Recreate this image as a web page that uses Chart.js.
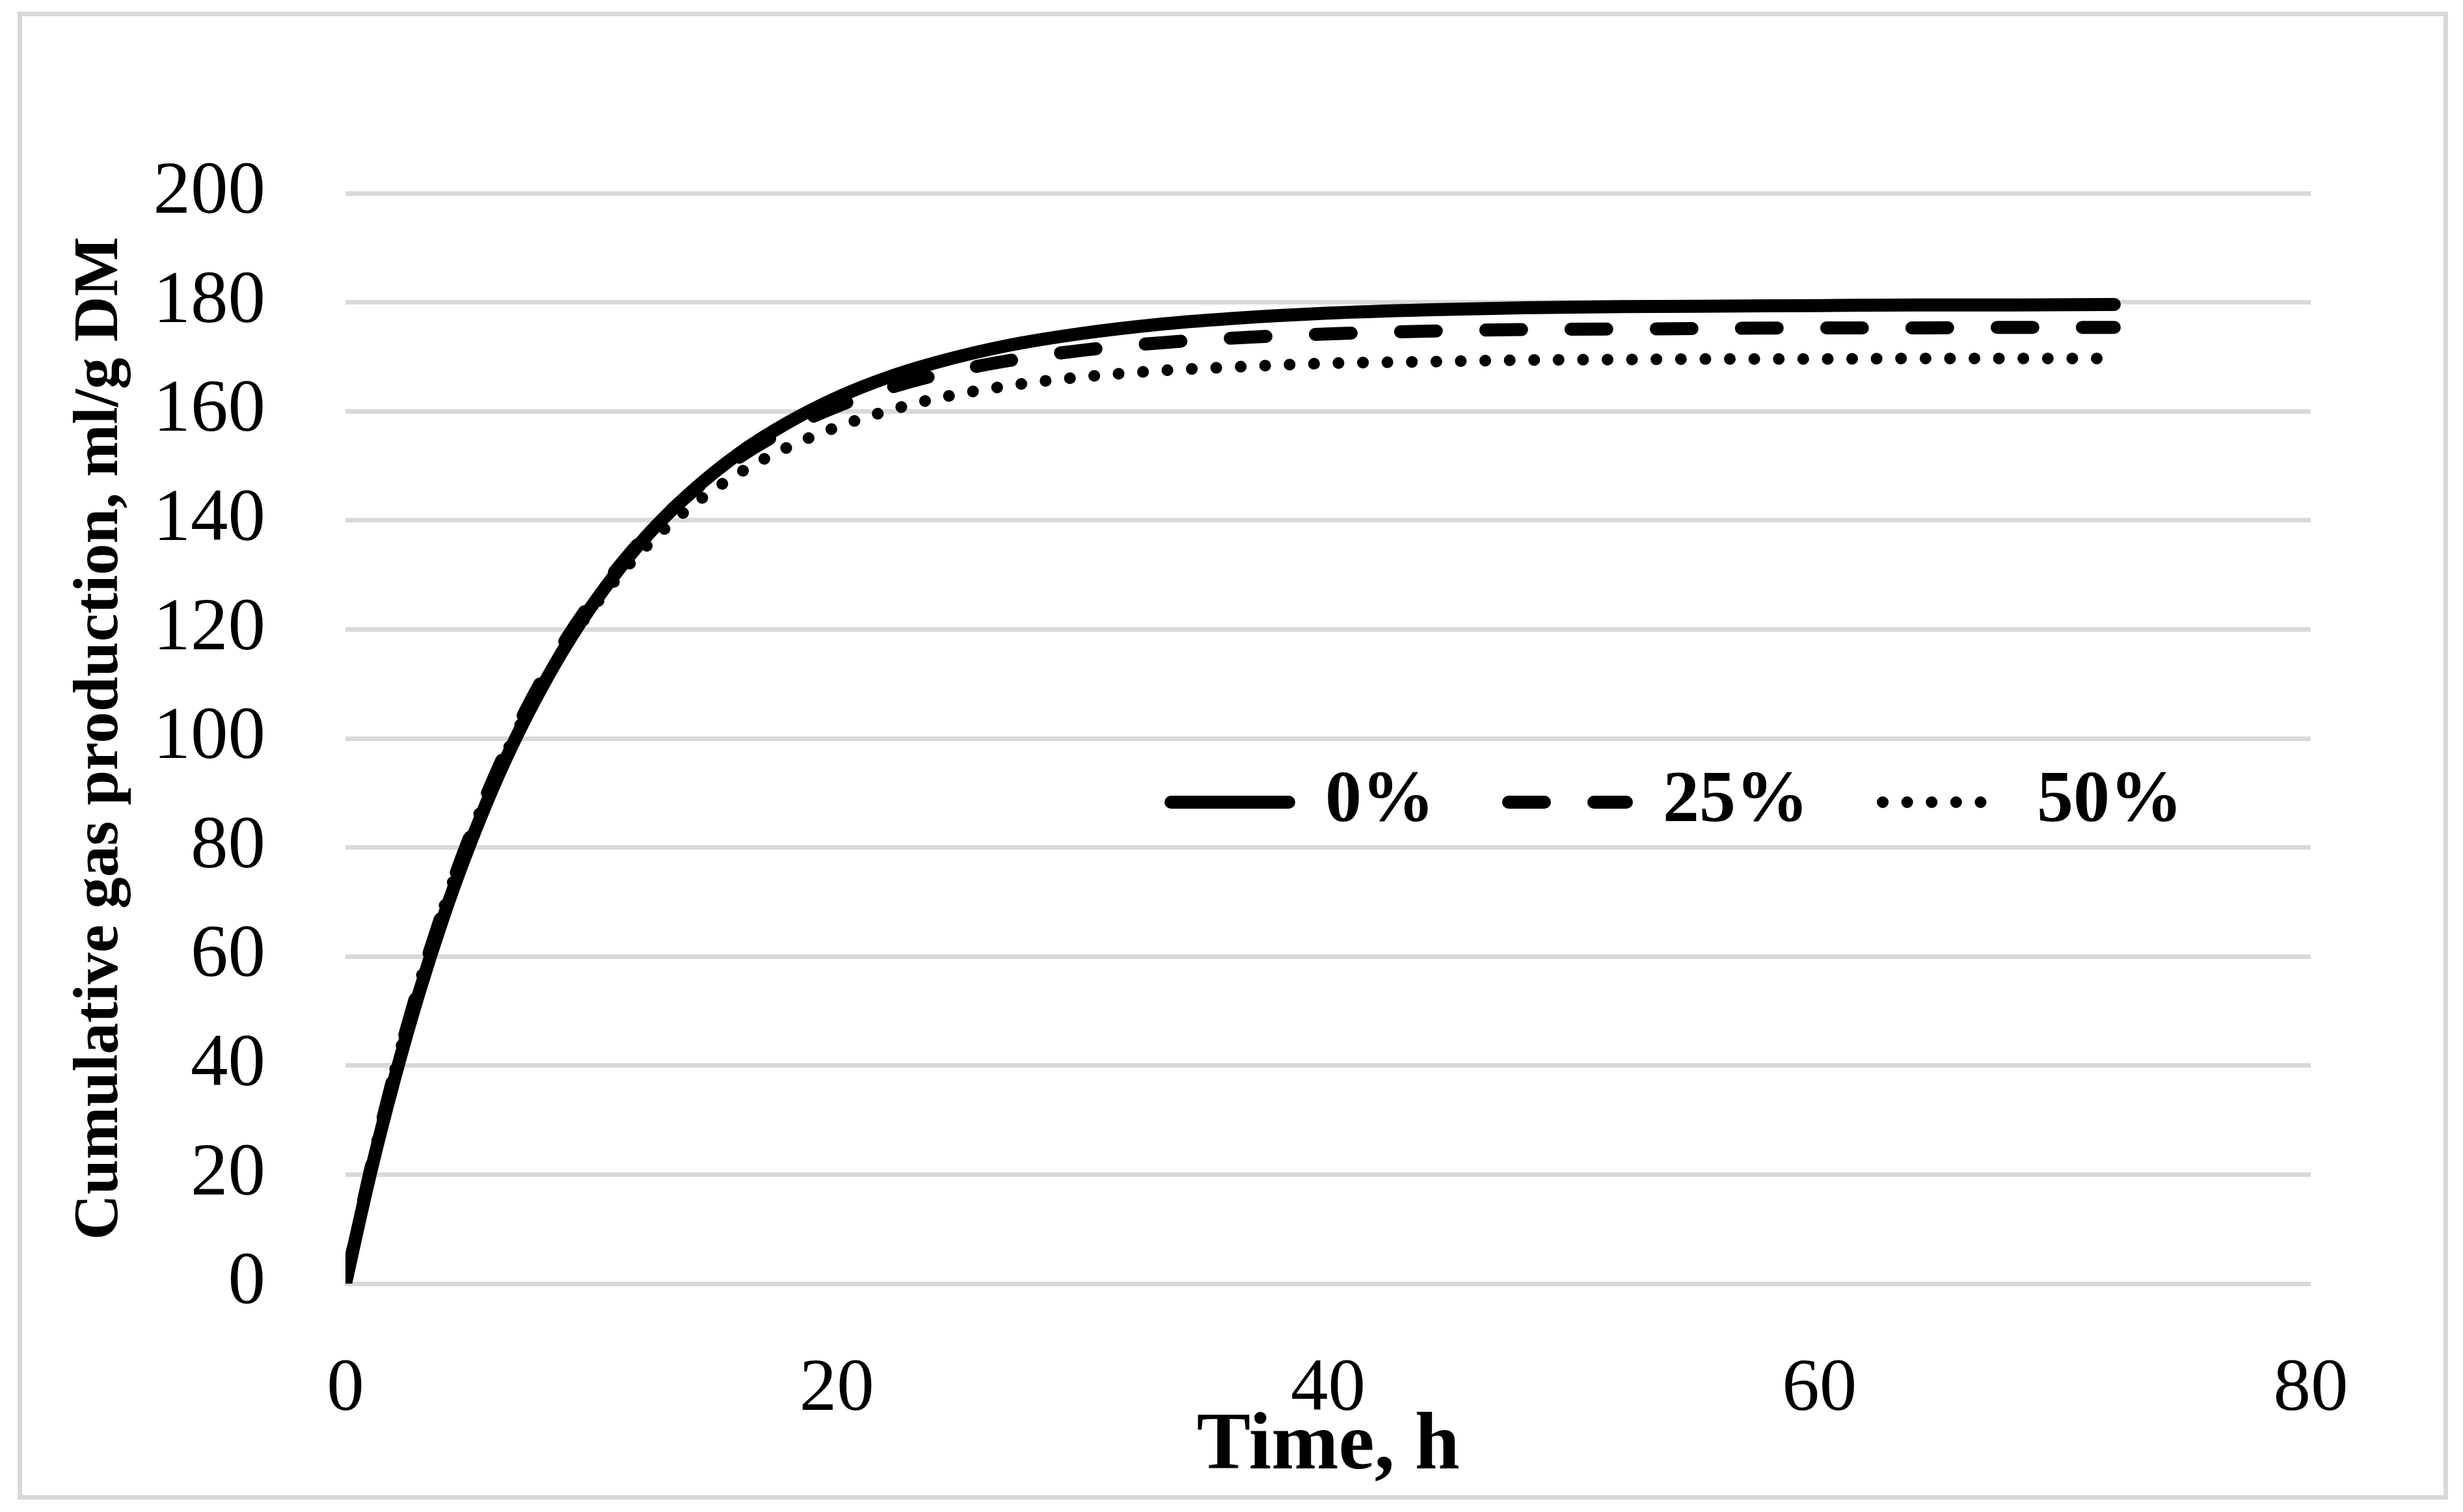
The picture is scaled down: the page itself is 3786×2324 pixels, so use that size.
<!DOCTYPE html>
<html>
<head>
<meta charset="utf-8">
<script src="https://cdn.jsdelivr.net/npm/chart.js@4.4.1/dist/chart.umd.min.js"></script>
<style>
  html, body { margin:0; padding:0; background:#ffffff; overflow:hidden; }
  #wrap { position:relative; width:3786px; height:2324px; background:#ffffff; }
  #frame { position:absolute; left:27px; top:18px; width:3736px; height:2287px; box-sizing:border-box; border:7px solid #D9D9D9; pointer-events:none; }
  canvas { position:absolute; left:0; top:0; }
</style>
</head>
<body>
<div id="wrap">
  <canvas id="c" width="3786" height="2324" style="width:3786px;height:2324px"></canvas>
  <div id="frame"></div>
</div>
<script>
// ---- data ----
const hours = [0,1,2,3,4,5,6,7,8,9,10,12,14,16,18,20,22,24,27,30,33,36,40,44,48,52,56,60,64,68,72];
const gas0  = [0,19.9,37.6,53.4,67.4,79.8,90.9,100.7,109.4,117.2,124.1,135.8,144.9,152.2,157.9,162.5,166.1,168.9,172.1,174.3,175.9,177.0,178.0,178.6,179.0,179.2,179.3,179.4,179.5,179.5,179.6];
const gas25 = [0,20.5,38.7,54.7,68.8,81.3,92.3,102.1,110.7,118.3,124.9,136.1,144.8,151.5,156.8,160.9,164.1,166.6,169.3,171.2,172.5,173.4,174.2,174.7,175.0,175.1,175.2,175.3,175.3,175.4,175.4];
const gas50 = [0,20.7,38.9,54.9,68.9,81.2,92.0,101.5,109.8,117.1,123.5,134.1,142.3,148.6,153.4,157.1,160.0,162.3,164.7,166.3,167.4,168.1,168.8,169.1,169.4,169.5,169.6,169.6,169.7,169.7,169.7];
const seriesNames = ['0%','25%','50%'];
const xTicks = [0,20,40,60,80];
const yTicks = [0,20,40,60,80,100,120,140,160,180,200];
const xTitle = 'Time, h';
const yTitle = 'Cumulative gas production, ml/g DM';

const FONT = 'Liberation Serif';
Chart.defaults.font.family = FONT;
Chart.defaults.color = '#000000';

function pts(vals){ return hours.map((h,i)=>({x:h, y:vals[i]})); }

const legendMover = {
  id: 'legendMover',
  afterInit(chart) {
    const lg = chart.legend;
    if (!lg) return;
    const fit = lg.fit.bind(lg);
    lg.fit = function(){ fit(); this._fullH = this.height; this._fullW = this.width; this.height = 0; };
  },
  afterLayout(chart) {
    const lg = chart.legend;
    if (!lg) return;
    lg.left = 1686; lg.top = 1063;
    lg.right = lg.left + (lg._fullW || 3000);
    lg.bottom = lg.top + (lg._fullH || 300);
  }
};

const common = { borderColor:'#000000', backgroundColor:'#000000', pointRadius:0, pointHoverRadius:0, fill:false, cubicInterpolationMode:'monotone', borderCapStyle:'round', borderJoinStyle:'round' };

new Chart(document.getElementById('c'), {
  type: 'line',
  data: {
    datasets: [
      Object.assign({}, common, { label: seriesNames[0], data: pts(gas0),  borderWidth: 20, borderDash: [] }),
      Object.assign({}, common, { label: seriesNames[1], data: pts(gas25), borderWidth: 20, borderDash: [55, 76] }),
      Object.assign({}, common, { label: seriesNames[2], data: pts(gas50), borderWidth: 18, borderDash: [0.1, 37.5] })
    ]
  },
  options: {
    responsive: false,
    devicePixelRatio: 1,
    animation: false,
    events: [],
    layout: { padding: { left: 0, right: 234, top: 297, bottom: 25 } },
    plugins: {
      tooltip: { enabled: false },
      legend: {
        position: 'top',
        align: 'start',
        labels: {
          usePointStyle: true,
          pointStyle: 'line',
          pointStyleWidth: 181,
          padding: 114,
          color: '#000000',
          font: { family: FONT, size: 112, weight: 'bold' },
          generateLabels(chart) {
            const items = Chart.defaults.plugins.legend.labels.generateLabels(chart);
            items.forEach(it => {
              const ds = chart.data.datasets[it.datasetIndex];
              it.lineDash = ds.borderDash;
              it.lineWidth = ds.borderWidth;
              it.lineCap = 'round';
              it.lineDashOffset = 0;
              it.strokeStyle = '#000000';
              it.fillStyle = '#000000';
              it.pointStyle = 'line';
              it.fontColor = '#000000';
            });
            return items;
          }
        }
      }
    },
    scales: {
      x: {
        type: 'linear', min: 0, max: 80,
        afterBuildTicks(s){ s.ticks = xTicks.map(v=>({value:v})); },
        afterFit(s){ s.height = 326; },
        ticks: { color:'#000000', padding: 95, maxRotation: 0, autoSkip: false, font: { family: FONT, size: 115 } },
        grid: { display: false, drawTicks: false },
        border: { display: false },
        title: { display: true, text: xTitle, color:'#000000', padding: 0, font: { family: FONT, size: 124, weight: 'bold' } }
      },
      y: {
        type: 'linear', min: 0, max: 200,
        afterBuildTicks(s){ s.ticks = yTicks.map(v=>({value:v})); },
        afterFit(s){ s.width = 531; },
        ticks: { color:'#000000', padding: 123, autoSkip: false, font: { family: FONT, size: 115 } },
        grid: { color: '#D9D9D9', lineWidth: 7, drawTicks: false },
        border: { display: false },
        title: { display: true, text: yTitle, color:'#000000', padding: { top: 97, bottom: 0 }, font: { family: FONT, size: 97, weight: 'bold' } }
      }
    }
  },
  plugins: [legendMover]
});
</script>
</body>
</html>
